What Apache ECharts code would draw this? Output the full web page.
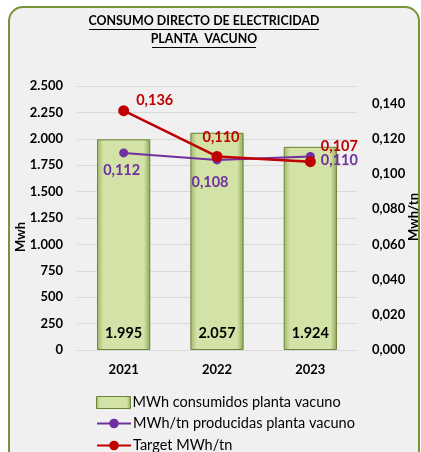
<!DOCTYPE html>
<html><head><meta charset="utf-8">
<script src="https://cdn.jsdelivr.net/npm/echarts@6/dist/echarts.min.js"></script>
<style>html,body{margin:0;padding:0;background:#fff}#c{width:421px;height:452px}</style>
</head><body><div id="c"></div>
<script>
const categories = ['2021', '2022', '2023'];
const mwhConsumed = [1995, 2057, 1924];
const mwhPerTn = [0.112, 0.108, 0.110];
const targetMwhPerTn = [0.136, 0.110, 0.107];
const seriesNames = ['MWh consumidos planta vacuno', 'MWh/tn producidas planta vacuno', 'Target MWh/tn'];
const titleLines = ['CONSUMO DIRECTO DE ELECTRICIDAD', 'PLANTA  VACUNO'];
const leftAxisName = 'Mwh';
const rightAxisName = 'Mwh/tn';

const FONT = 'Lato';
const fmtThousands = v => String(Math.round(v)).replace(/\B(?=(\d{3})+(?!\d))/g, '.');
const fmtDec = v => v.toFixed(3).replace('.', ',');

const chart = echarts.init(document.getElementById('c'), null, {renderer: 'canvas'});
const barGrad = new echarts.graphic.LinearGradient(0, 0, 1, 0, [
  {offset: 0, color: '#9fb86a'},
  {offset: 0.12, color: '#d3e2a6'},
  {offset: 0.88, color: '#d3e2a6'},
  {offset: 1, color: '#8da55a'}
]);
const legendBase = {
  orient: 'vertical', left: 96, padding: 0, itemWidth: 34, itemHeight: 12, itemGap: 5,
  textStyle: {fontFamily: FONT, fontSize: 14.5, color: '#000', padding: [0, 0, 0, -3]}
};
chart.setOption({
  animation: false,
  backgroundColor: 'transparent',
  textStyle: {fontFamily: FONT},
  graphic: [
    {type: 'rect', z: -10, shape: {x: 9, y: 7, width: 410, height: 470, r: 14},
     style: {fill: '#f0f0f0', stroke: '#77933c', lineWidth: 2}},
    {type: 'text', x: 204, y: 15, style: {text: titleLines[0], align: 'center', font: 'bold 12.4px ' + FONT, fill: '#000'}},
    {type: 'text', x: 204, y: 33, style: {text: titleLines[1], align: 'center', font: 'bold 12.4px ' + FONT, fill: '#000'}},
    {type: 'line', shape: {x1: 89, y1: 29.5, x2: 319, y2: 29.5}, style: {stroke: '#000', lineWidth: 1}},
    {type: 'line', shape: {x1: 152, y1: 47.5, x2: 256, y2: 47.5}, style: {stroke: '#000', lineWidth: 1}},
    {type: 'text', x: 14, y: 252, rotation: Math.PI / 2, style: {text: leftAxisName, font: 'bold 13px ' + FONT, fill: '#000'}},
    {type: 'text', x: 407, y: 241, rotation: Math.PI / 2, style: {text: rightAxisName, font: 'bold 13px ' + FONT, fill: '#000'}}
  ],
  grid: {left: 77, right: 64, top: 86, bottom: 102},
  legend: [
    Object.assign({}, legendBase, {top: 395, data: [{name: seriesNames[0], icon: 'rect', itemHeight: 8,
      itemStyle: {color: barGrad, borderColor: '#6a8436', borderWidth: 1}}]}),
    Object.assign({}, legendBase, {top: 416, data: [{name: seriesNames[1]}]}),
    Object.assign({}, legendBase, {top: 438, data: [{name: seriesNames[2]}]})
  ],
  xAxis: {
    type: 'category', data: categories,
    axisLine: {show: false}, axisTick: {show: false},
    axisLabel: {fontFamily: FONT, fontWeight: 'bold', fontSize: 13, color: '#000', margin: 13}
  },
  yAxis: [
    {type: 'value', min: 0, max: 2500, interval: 250,
     axisLine: {show: false}, axisTick: {show: false},
     splitLine: {lineStyle: {color: '#d9d9d9', width: 1}},
     axisLabel: {fontFamily: FONT, fontWeight: 'bold', fontSize: 13, color: '#000', margin: 14, formatter: fmtThousands}},
    {type: 'value', min: 0, max: 0.15, interval: 0.02,
     axisLine: {show: false}, axisTick: {show: false}, splitLine: {show: false},
     axisLabel: {fontFamily: FONT, fontWeight: 'bold', fontSize: 13, color: '#000', margin: 15, showMaxLabel: false,
       formatter: v => (Math.abs(v - 0.15) < 1e-9 ? '' : fmtDec(v))}}
  ],
  series: [
    {name: seriesNames[0], type: 'bar', data: mwhConsumed, barWidth: '57%',
     itemStyle: {color: barGrad, borderColor: '#6a8436', borderWidth: 1},
     label: {show: true, position: 'insideBottom', distance: 9, formatter: p => fmtThousands(p.value),
       fontFamily: FONT, fontWeight: 'bold', fontSize: 14.5, color: '#000'}},
    {name: seriesNames[1], type: 'line', yAxisIndex: 1,
     symbol: 'circle', symbolSize: 9, lineStyle: {color: '#7030a0', width: 2}, itemStyle: {color: '#7030a0'},
     label: {show: true, fontFamily: FONT, fontWeight: 'bold', fontSize: 14.5, color: '#7030a0',
       formatter: p => fmtDec(p.value)},
     data: mwhPerTn.map((v, i) => ({value: v, label:
       i === 0 ? {position: 'bottom', distance: 5, offset: [-2, 0]} :
       i === 1 ? {position: 'bottom', distance: 5, offset: [-7, 5]} :
                 {position: 'right', distance: 6, offset: [0, 4]}}))},
    {name: seriesNames[2], type: 'line', yAxisIndex: 1,
     symbol: 'circle', symbolSize: 11, lineStyle: {color: '#c00000', width: 2.5}, itemStyle: {color: '#c00000'},
     label: {show: true, fontFamily: FONT, fontWeight: 'bold', fontSize: 14.5, color: '#c00000',
       formatter: p => fmtDec(p.value)},
     data: targetMwhPerTn.map((v, i) => ({value: v, label:
       i === 0 ? {position: 'right', offset: [2, -10]} :
       i === 1 ? {position: 'top', distance: 6, offset: [4, 0]} :
                 {position: 'right', offset: [0, -15]}}))}
  ]
});
</script></body></html>
